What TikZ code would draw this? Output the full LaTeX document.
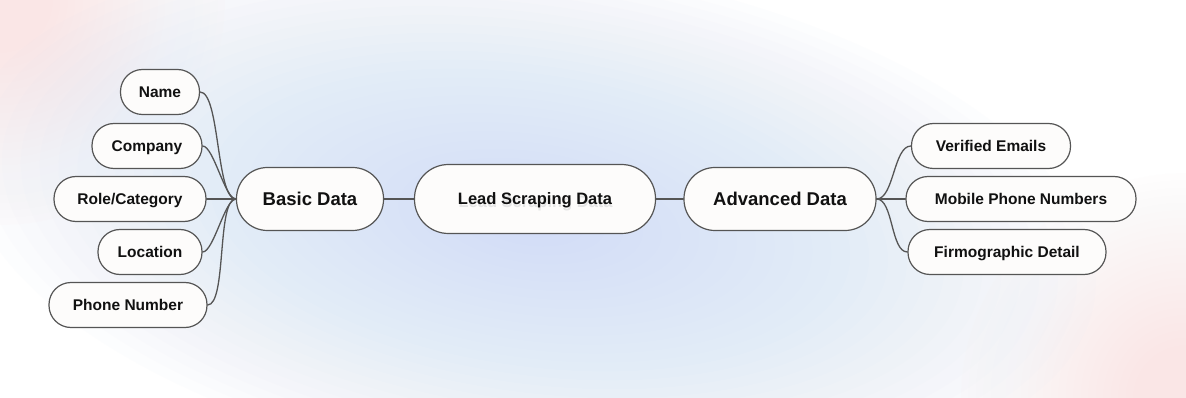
\documentclass[tikz,border=0pt]{standalone}
\usepackage{fontspec}
\setmainfont{Liberation Sans}
\usepackage{tikz}
\usetikzlibrary{positioning}
\definecolor{mapink}{HTML}{111111}
\definecolor{mapedge}{HTML}{555555}
\definecolor{mapbox}{HTML}{FDFCFB}
\definecolor{mapblue}{HTML}{C6DAF7}
\definecolor{mappink}{HTML}{FAE6E6}
\newcommand{\shadowtext}[1]{\rlap{\kern.6pt\raisebox{-2.6pt}{\color{black!10}#1}}#1}

\begin{document}
\begin{tikzpicture}[line cap=round,line join=round,
  text=mapink,
  leaf/.style={draw=mapedge,fill=mapbox,line width=1.2pt,rounded corners=22pt,
    minimum height=45pt,inner sep=0pt,text height=11.1pt,text depth=0pt,
    font=\fontsize{15.5}{18}\selectfont\bfseries},
  hub/.style={leaf,rounded corners=31pt,minimum height=63pt,text height=13.2pt,
    font=\fontsize{18.5}{22}\selectfont\bfseries},
  root/.style={leaf,rounded corners=34pt,minimum height=69pt,text height=11.8pt,
    font=\fontsize{16.5}{20}\selectfont\bfseries},
  link/.style={draw=mapedge,line width=1.3pt}]
\begin{scope}[x=1pt,y=-1pt]
  \path[use as bounding box] (0,0) rectangle (1186,398);
  % soft background wash, built up from thin layers
  \fill[white] (0,0) rectangle (1186,398);
  \foreach \k in {1,...,30}{
    \fill[mappink,opacity=.045] (0,0) circle[radius={\k*7.5}];
    \fill[mappink,opacity=.045] (1186,398) circle[radius={\k*7.5}];
  }
  \foreach \k in {1,...,30}
    \fill[mapblue,opacity=.035,rotate around={-8:(530,220)}]
      (530,220) ellipse[x radius={\k*19},y radius={\k*8.6}];
  % middle row
  \node[root,minimum width=241pt] (lead) at (535,199) {\shadowtext{Lead Scraping Data}};
  \node[hub,minimum width=147pt] (basic) at (310,199) {Basic Data};
  \node[hub,minimum width=192pt] (adv) at (780,199) {Advanced Data};
  \draw[link] (basic.east) -- (lead.west);
  \draw[link] (lead.east) -- (adv.west);
  % basic data fields
  \node[leaf,minimum width=79pt] (name) at (160,92) {Name};
  \node[leaf,minimum width=110pt] (company) at (147,146) {Company};
  \node[leaf,minimum width=152pt] (role) at (130,199) {Role/Category};
  \node[leaf,minimum width=104pt] (location) at (150,252) {Location};
  \node[leaf,minimum width=158pt] (phone) at (128,305) {Phone Number};
  \foreach \f in {name,company,location,phone}
    \draw[link] (\f.east) to[out=0,in=180,looseness=.45] (basic.west);
  \draw[link] (role.east) -- (basic.west);
  % advanced data fields
  \node[leaf,minimum width=159pt] (emails) at (991,146) {Verified Emails};
  \node[leaf,minimum width=230pt] (mobile) at (1021,199) {Mobile Phone Numbers};
  \node[leaf,minimum width=198pt] (firmo) at (1007,252) {Firmographic Detail};
  \draw[link] (adv.east) to[out=0,in=180,looseness=.7] (emails.west);
  \draw[link] (adv.east) -- (mobile.west);
  \draw[link] (adv.east) to[out=0,in=180,looseness=.7] (firmo.west);
\end{scope}
\end{tikzpicture}
\end{document}
